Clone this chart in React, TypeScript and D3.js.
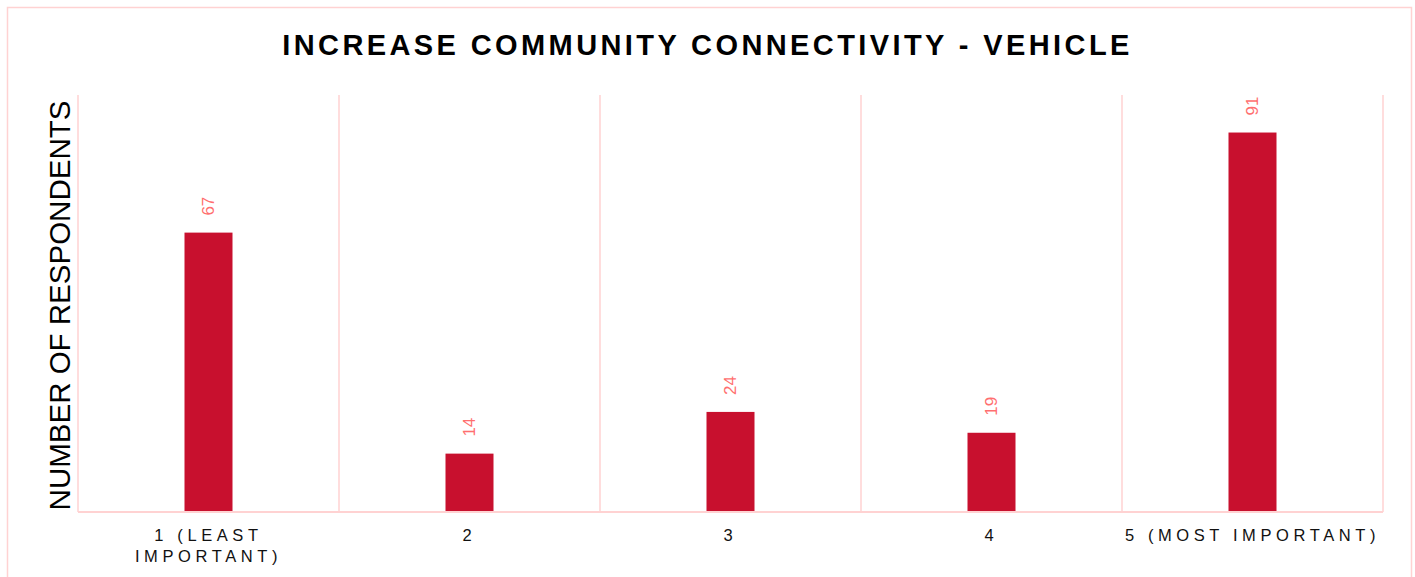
import React, {useEffect, useRef} from 'react';
import * as d3 from 'd3';

const categories = ['1 (LEAST IMPORTANT)', '2', '3', '4', '5 (MOST IMPORTANT)'];
const respondents = [67, 14, 24, 19, 91];
const yDomain = [0, 100];

const WIDTH = 1415;
const HEIGHT = 577;
const margin = {top: 95, right: 32, bottom: 65, left: 78};
const BAR_COLOR = '#c8102e';
const GRID_COLOR = '#ffd2d2';
const LABEL_COLOR = '#ff6f6f';
const FONT = '"Liberation Sans", Arial, sans-serif';

export default function App() {
  const svgRef = useRef<SVGSVGElement>(null);

  useEffect(() => {
    if (!svgRef.current) return;
    const svg = d3.select(svgRef.current);
    svg.selectAll('*').remove();

    const innerW = WIDTH - margin.left - margin.right;
    const innerH = HEIGHT - margin.top - margin.bottom;

    const x = d3.scaleBand<string>().domain(categories).range([0, innerW]);
    const y = d3.scaleLinear().domain(yDomain).range([innerH, 0]);
    const barW = 48;

    // outer frame
    svg
      .append('rect')
      .attr('x', 7.5)
      .attr('y', 7.5)
      .attr('width', 1404)
      .attr('height', 600)
      .attr('fill', 'white')
      .attr('stroke', GRID_COLOR)
      .attr('stroke-width', 1.5);

    svg
      .append('text')
      .attr('x', WIDTH / 2)
      .attr('y', 55)
      .attr('text-anchor', 'middle')
      .style('font-family', FONT)
      .style('font-weight', 'bold')
      .style('font-size', '29px')
      .style('letter-spacing', '3.4px')
      .text('INCREASE COMMUNITY CONNECTIVITY - VEHICLE');

    svg
      .append('text')
      .attr('transform', `translate(70,${margin.top + innerH / 2 + 2}) rotate(-90)`)
      .attr('text-anchor', 'middle')
      .style('font-family', FONT)
      .style('font-size', '29.5px')
      .text('NUMBER OF RESPONDENTS');

    const g = svg
      .append('g')
      .attr('transform', `translate(${margin.left},${margin.top})`);

    // vertical grid lines at category boundaries
    const bounds = categories.map((c) => x(c)!).concat([innerW]);
    g.selectAll('line.grid')
      .data(bounds)
      .join('line')
      .attr('class', 'grid')
      .attr('x1', (d) => d)
      .attr('x2', (d) => d)
      .attr('y1', 0)
      .attr('y2', innerH)
      .attr('stroke', GRID_COLOR)
      .attr('stroke-width', 1.5);

    g.selectAll('rect.bar')
      .data(respondents)
      .join('rect')
      .attr('class', 'bar')
      .attr('x', (_, i) => x(categories[i])! + x.bandwidth() / 2 - barW / 2)
      .attr('y', (d) => y(d))
      .attr('width', barW)
      .attr('height', (d) => innerH - y(d))
      .attr('fill', BAR_COLOR);

    g.selectAll('text.val')
      .data(respondents)
      .join('text')
      .attr('class', 'val')
      .attr(
        'transform',
        (d, i) =>
          `translate(${x(categories[i])! + x.bandwidth() / 2},${y(d) - 17}) rotate(-90)`,
      )
      .attr('dominant-baseline', 'central')
      .attr('text-anchor', 'start')
      .style('font-family', FONT)
      .style('font-size', '17px')
      .attr('fill', LABEL_COLOR)
      .text((d) => d);

    // baseline
    g.append('line')
      .attr('x1', 0)
      .attr('x2', innerW)
      .attr('y1', innerH)
      .attr('y2', innerH)
      .attr('stroke', GRID_COLOR)
      .attr('stroke-width', 2);

    // category labels, wrapped when wider than the band
    const maxW = x.bandwidth() - 5;
    categories.forEach((c) => {
      const cx = x(c)! + x.bandwidth() / 2;
      const t = g
        .append('text')
        .attr('x', cx)
        .attr('y', innerH + 29)
        .attr('text-anchor', 'middle')
        .style('font-family', FONT)
        .style('font-size', '16.5px')
        .style('letter-spacing', '4.6px')
        .attr('fill', '#111');
      const words = c.split(' ');
      let line: string[] = [];
      let tspan = t.append('tspan').attr('x', cx).attr('dy', 0);
      words.forEach((w) => {
        line.push(w);
        tspan.text(line.join(' '));
        if ((tspan.node() as SVGTextContentElement).getComputedTextLength() > maxW && line.length > 1) {
          line.pop();
          tspan.text(line.join(' '));
          line = [w];
          tspan = t.append('tspan').attr('x', cx).attr('dy', 21).text(w);
        }
      });
    });
  }, []);

  return (
    <svg
      ref={svgRef}
      width={WIDTH}
      height={HEIGHT}
      style={{position: 'absolute', left: 0, top: 0, background: 'white'}}
    />
  );
}
